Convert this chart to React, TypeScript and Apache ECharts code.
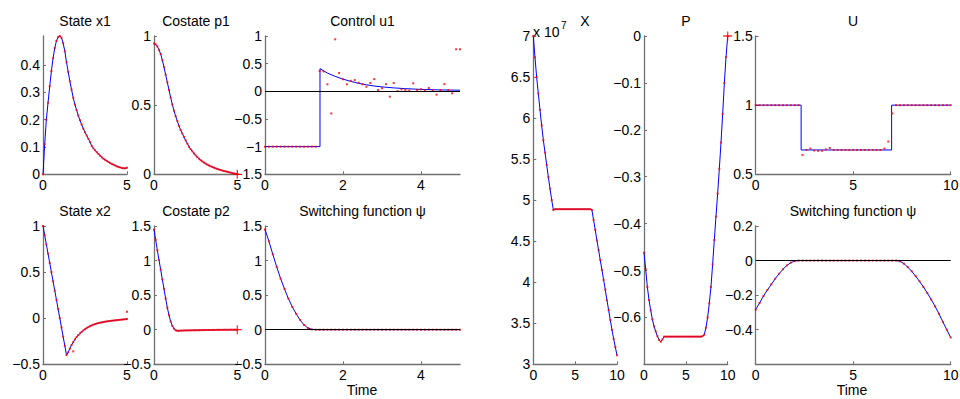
import React, { useEffect, useRef } from 'react';
import * as echarts from 'echarts';

// ---------- time grids ----------
const tLeft = [0, 0.1, 0.2, 0.3, 0.4, 0.5, 0.6, 0.7, 0.8, 0.9, 1.0, 1.1, 1.2, 1.3, 1.4, 1.5, 1.6, 1.7, 1.8, 1.9, 2.0,
  2.1, 2.2, 2.3, 2.4, 2.5, 2.6, 2.7, 2.8, 2.9, 3.0, 3.1, 3.2, 3.3, 3.4, 3.5, 3.6, 3.7, 3.8, 3.9, 4.0,
  4.1, 4.2, 4.3, 4.4, 4.5, 4.6, 4.7, 4.8, 4.9, 5.0];
const tRight = [0, 0.2, 0.4, 0.6, 0.8, 1.0, 1.2, 1.4, 1.6, 1.8, 2.0, 2.2, 2.4, 2.6, 2.8, 3.0, 3.2, 3.4, 3.6, 3.8, 4.0,
  4.2, 4.4, 4.6, 4.8, 5.0, 5.2, 5.4, 5.6, 5.8, 6.0, 6.2, 6.4, 6.6, 6.8, 7.0, 7.2, 7.4, 7.6, 7.8, 8.0,
  8.2, 8.4, 8.6, 8.8, 9.0, 9.2, 9.4, 9.6, 9.8, 10.0];

// ---------- left problem ----------
const stateX1 = [0, 0.11, 0.2, 0.262, 0.322, 0.378, 0.425, 0.462, 0.488, 0.502, 0.506,
  0.5, 0.48, 0.45, 0.41, 0.375, 0.34, 0.31, 0.28, 0.255, 0.235,
  0.215, 0.198, 0.182, 0.167, 0.154, 0.142, 0.13, 0.118, 0.104, 0.095,
  0.088, 0.081, 0.074, 0.068, 0.062, 0.057, 0.053, 0.049, 0.045, 0.041,
  0.038, 0.035, 0.032, 0.029, 0.027, 0.025, 0.023, 0.022, 0.022, 0.024];
const costateP1 = [0.945, 0.94, 0.925, 0.9, 0.87, 0.825, 0.775, 0.72, 0.665, 0.61, 0.555,
  0.505, 0.46, 0.42, 0.385, 0.35, 0.32, 0.295, 0.27, 0.245, 0.222,
  0.2, 0.182, 0.166, 0.151, 0.137, 0.124, 0.113, 0.102, 0.093, 0.085,
  0.077, 0.07, 0.064, 0.058, 0.053, 0.048, 0.043, 0.039, 0.035, 0.031,
  0.027, 0.024, 0.021, 0.018, 0.015, 0.012, 0.009, 0.006, 0.003, 0.001];
const controlU1LineT = [0, 1.41, 1.41, 1.6, 1.8, 2.0, 2.2, 2.4, 2.6, 2.8, 3.0, 3.3, 3.6, 4.0, 4.5, 5.0];
const controlU1LineV = [-1, -1, 0.41, 0.33, 0.27, 0.22, 0.18, 0.145, 0.118, 0.096, 0.08, 0.062, 0.048, 0.035, 0.025, 0.02];
const controlU1Dots = [-1, -1, -1, -1, -1, -1, -1, -1, -1, -1, -1, -1, -1, -1,
  0.367, 0.36, 0.127, -0.4, 0.94, 0.331, 0.22, 0.127, 0.19, 0.204, 0.156, 0.127, 0.083, 0.15, 0.22, 0.024,
  0.054, 0.13, -0.097, 0.15, 0.005, 0.036, 0.024, 0.012, 0.145, 0.024, 0.036,
  0.018, 0.06, 0.018, -0.06, 0.024, 0.13, 0.024, -0.036, 0.76, 0.76];
const stateX2 = [1, 0.9, 0.8, 0.7, 0.6, 0.5, 0.4, 0.3, 0.2, 0.1, 0,
  -0.1, -0.2, -0.3, -0.4, -0.37, -0.33, -0.29, -0.26, -0.23, -0.205,
  -0.183, -0.164, -0.148, -0.133, -0.12, -0.108, -0.096, -0.086, -0.078, -0.07,
  -0.064, -0.058, -0.053, -0.049, -0.045, -0.041, -0.038, -0.035, -0.032, -0.03,
  -0.027, -0.025, -0.023, -0.021, -0.019, -0.017, -0.015, -0.013, -0.011, -0.01];
const stateX2ExtraT = [1.8, 5.0];
const stateX2ExtraV = [-0.36, 0.07];
const costateP2 = [1.45, 1.3, 1.15, 1.01, 0.87, 0.73, 0.59, 0.45, 0.32, 0.21, 0.12,
  0.055, 0.015, -0.008, -0.015, -0.015, -0.013, -0.012, -0.011, -0.01, -0.01,
  -0.009, -0.009, -0.008, -0.008, -0.007, -0.007, -0.006, -0.006, -0.005, -0.005,
  -0.005, -0.004, -0.004, -0.004, -0.003, -0.003, -0.003, -0.002, -0.002, -0.002,
  -0.002, -0.001, -0.001, -0.001, -0.001, 0, 0, 0, 0, 0];
const switchingLeft = [1.45, 1.28, 1.09, 0.91, 0.74, 0.59, 0.45, 0.33, 0.23, 0.14, 0.07,
  0.025, 0.005, 0, 0, 0, 0, 0, 0, 0, 0,
  0, 0, 0, 0, 0, 0, 0, 0, 0, 0,
  0, 0, 0, 0, 0, 0, 0, 0, 0, 0,
  0, 0, 0, 0, 0, 0, 0, 0, 0, 0];
const p1Terminal = [5, 0];
const p2Terminal = [5, 0];

// ---------- right problem ----------
const stateX = [7.0, 6.74, 6.5, 6.3, 6.1, 5.91, 5.73, 5.58, 5.43, 5.28, 5.14,
  5.0, 4.88, 4.89, 4.89, 4.89, 4.89, 4.89, 4.89, 4.89, 4.89,
  4.89, 4.89, 4.89, 4.89, 4.89, 4.89, 4.89, 4.89, 4.89, 4.89,
  4.89, 4.89, 4.89, 4.89, 4.88, 4.76, 4.64, 4.51, 4.39, 4.27,
  4.15, 4.03, 3.91, 3.78, 3.66, 3.54, 3.42, 3.31, 3.21, 3.11]; // ×10^7
const costateP = [-0.462, -0.497, -0.535, -0.563, -0.585, -0.604, -0.619, -0.63, -0.64, -0.648, -0.652,
  -0.647, -0.641, -0.641, -0.641, -0.641, -0.641, -0.641, -0.641, -0.641, -0.641,
  -0.641, -0.641, -0.641, -0.641, -0.641, -0.641, -0.641, -0.641, -0.641, -0.641,
  -0.641, -0.641, -0.641, -0.641, -0.64, -0.637, -0.622, -0.6, -0.57, -0.535,
  -0.487, -0.435, -0.385, -0.336, -0.283, -0.227, -0.166, -0.1, -0.045, 0];
const pTerminal = [10, 0];
const controlUStepT = [0, 2.33, 6.97, 10];
const controlUStepV = [1, 0.676, 1, 1];
const controlUDots = [1, 1, 1, 1, 1, 1, 1, 1, 1, 1, 1, 1,
  0.64, 0.676, 0.686, 0.672, 0.67, 0.67, 0.68, 0.69,
  0.676, 0.676, 0.676, 0.676, 0.676, 0.676, 0.676, 0.676, 0.676, 0.676, 0.676, 0.676, 0.676,
  0.686, 0.737, 0.94,
  1, 1, 1, 1, 1, 1, 1, 1, 1, 1, 1, 1, 1, 1, 1];
const switchingRight = [-0.284, -0.245, -0.205, -0.17, -0.138, -0.105, -0.076, -0.05, -0.028, -0.012, -0.003,
  0, 0, 0, 0, 0, 0, 0, 0, 0, 0,
  0, 0, 0, 0, 0, 0, 0, 0, 0, 0,
  0, 0, 0, 0, 0, 0, -0.004, -0.018, -0.038, -0.062,
  -0.09, -0.12, -0.152, -0.188, -0.225, -0.265, -0.308, -0.355, -0.4, -0.445];

// ---------- tick labels ----------
const ticksX5 = [0, 5];
const ticksX5Wide = [0, 2, 4];
const ticksX10 = [0, 5, 10];
const ticksX1 = [0, 0.1, 0.2, 0.3, 0.4];
const ticksP1 = [0, 0.5, 1];
const ticksU1 = [-1.5, -1, -0.5, 0, 0.5, 1];
const ticksX2 = [-0.5, 0, 0.5, 1];
const ticksP2 = [-0.5, 0, 0.5, 1, 1.5];
const ticksX = [3, 3.5, 4, 4.5, 5, 5.5, 6, 6.5, 7];
const ticksP = [0, -0.1, -0.2, -0.3, -0.4, -0.5, -0.6];
const ticksU = [0.5, 1, 1.5];
const ticksPsiR = [-0.4, -0.2, 0, 0.2];

const titles = ['State x1', 'Costate p1', 'Control u1', 'State x2', 'Costate p2', 'Switching function \u03c8',
  'X', 'P', 'U', 'Switching function \u03c8'];

const BLUE = '#0000ff';
const RED = '#ff0000';
const AXIS = '#707070';
const FONT = '"Liberation Sans", Arial, Helvetica, sans-serif';

const pairs = (t: number[], v: number[]) => t.map((x, i) => [x, v[i]]);
const fmt = (v: number) => String(v).replace('-', '\u2212');

export default function App() {
  const ref = useRef<HTMLDivElement>(null);
  useEffect(() => {
    if (!ref.current) return;
    const chart = echarts.init(ref.current, undefined, { renderer: 'svg' });

    const panels = [
      { l: 43, t: 36, w: 84, h: 138.3, xMax: 5, xt: ticksX5, yMin: 0, yMax: 0.506, yt: ticksX1 },
      { l: 154, t: 36, w: 83.3, h: 138.3, xMax: 5, xt: ticksX5, yMin: 0, yMax: 1, yt: ticksP1 },
      { l: 265, t: 36, w: 195, h: 138.3, xMax: 5, xt: ticksX5Wide, yMin: -1.5, yMax: 1, yt: ticksU1 },
      { l: 43, t: 226, w: 84, h: 138.3, xMax: 5, xt: ticksX5, yMin: -0.5, yMax: 1, yt: ticksX2 },
      { l: 154, t: 226, w: 83.3, h: 138.3, xMax: 5, xt: ticksX5, yMin: -0.5, yMax: 1.5, yt: ticksP2 },
      { l: 265, t: 226, w: 195, h: 138.3, xMax: 5, xt: ticksX5Wide, yMin: -0.5, yMax: 1.5, yt: ticksP2 },
      { l: 533.3, t: 36, w: 83.7, h: 328.3, xMax: 10, xt: ticksX10, yMin: 3, yMax: 7, yt: ticksX },
      { l: 644, t: 36, w: 83.7, h: 328.3, xMax: 10, xt: ticksX10, yMin: -0.7, yMax: 0, yt: ticksP },
      { l: 755.7, t: 36, w: 195, h: 138.3, xMax: 10, xt: ticksX10, yMin: 0.5, yMax: 1.5, yt: ticksU },
      { l: 755.7, t: 226, w: 195, h: 138.3, xMax: 10, xt: ticksX10, yMin: -0.6, yMax: 0.2, yt: ticksPsiR },
    ];

    const labelStyle = { fontSize: 14, color: '#000', fontFamily: FONT };
    const grid = panels.map((p) => ({ left: p.l, top: p.t, width: p.w, height: p.h, outerBoundsMode: 'none', containLabel: false }));
    const xAxis = panels.map((p, i) => ({
      gridIndex: i, type: 'value', min: 0, max: p.xMax,
      axisLine: { show: true, onZero: false, lineStyle: { color: AXIS, width: 1.3 } },
      axisTick: { show: true, inside: true, length: 3, customValues: p.xt, lineStyle: { color: AXIS } },
      axisLabel: { ...labelStyle, customValues: p.xt, margin: 4, formatter: fmt },
      splitLine: { show: false },
    }));
    const yAxis = panels.map((p, i) => ({
      gridIndex: i, type: 'value', min: p.yMin, max: p.yMax,
      axisLine: { show: true, onZero: false, lineStyle: { color: AXIS, width: 1.3 } },
      axisTick: { show: true, inside: true, length: 3, customValues: p.yt, lineStyle: { color: AXIS } },
      axisLabel: { ...labelStyle, customValues: p.yt, margin: 3, formatter: fmt },
      splitLine: { show: false },
    }));

    const series: any[] = [];
    const blue = (i: number, data: number[][], extra: any = {}) => series.push({
      type: 'line', xAxisIndex: i, yAxisIndex: i, data, showSymbol: false, symbol: 'none',
      lineStyle: { color: BLUE, width: 1 }, z: 2, clip: false, silent: true, ...extra,
    });
    const dots = (i: number, data: number[][]) => series.push({
      type: 'scatter', xAxisIndex: i, yAxisIndex: i, data, symbol: 'rect', symbolSize: 2,
      itemStyle: { color: RED }, z: 4, clip: false, silent: true,
    });
    const zero = (i: number) => series.push({
      type: 'line', xAxisIndex: i, yAxisIndex: i, data: [], z: 3, silent: true,
      markLine: { silent: true, symbol: 'none', label: { show: false }, lineStyle: { color: '#000', width: 1, type: 'solid' }, data: [{ yAxis: 0 }], animation: false },
    });
    const plus = (i: number, pt: number[]) => series.push({
      type: 'scatter', xAxisIndex: i, yAxisIndex: i, data: [pt],
      symbol: 'path://M4.3,0H5.7V4.3H10V5.7H5.7V10H4.3V5.7H0V4.3H4.3Z', symbolSize: 9,
      itemStyle: { color: RED }, z: 5, clip: false, silent: true,
    });

    const x1 = pairs(tLeft, stateX1); blue(0, x1); dots(0, x1);
    const p1 = pairs(tLeft, costateP1); blue(1, p1); dots(1, p1); plus(1, p1Terminal);
    blue(2, pairs(controlU1LineT, controlU1LineV)); zero(2); dots(2, pairs(tLeft, controlU1Dots));
    const x2 = pairs(tLeft, stateX2); blue(3, x2); dots(3, x2); dots(3, pairs(stateX2ExtraT, stateX2ExtraV));
    const p2 = pairs(tLeft, costateP2); blue(4, p2); dots(4, p2); plus(4, p2Terminal);
    const psL = pairs(tLeft, switchingLeft); blue(5, psL); zero(5); dots(5, psL);
    const X = pairs(tRight, stateX); blue(6, X); dots(6, X);
    const P = pairs(tRight, costateP); blue(7, P); dots(7, P); plus(7, pTerminal);
    blue(8, pairs(controlUStepT, controlUStepV), { step: 'end' }); dots(8, pairs(tRight, controlUDots));
    const psR = pairs(tRight, switchingRight); blue(9, psR); zero(9); dots(9, psR);

    const titleX = [85, 196, 362.5, 85, 196, 362.5, 585, 686, 853, 853];
    const titleY = [21, 21, 21, 211, 211, 211, 21, 21, 21, 211];
    const txt = (text: string, x: number, y: number, size = 14, align = 'center') => ({
      type: 'text', x, y, silent: true,
      style: { text, fontSize: size, fontFamily: FONT, fill: '#000', align, verticalAlign: 'middle', textAlign: align, textVerticalAlign: 'middle' },
    });
    const graphic = [
      ...titles.map((s, i) => txt(s, titleX[i], titleY[i])),
      txt('Time', 362, 390),
      txt('Time', 852, 390),
      txt('x 10', 533, 32, 14, 'left'),
      txt('7', 561, 25, 10, 'left'),
    ];

    chart.setOption({
      animation: false,
      backgroundColor: '#fff',
      grid, xAxis, yAxis, series, graphic,
    } as any);
    return () => chart.dispose();
  }, []);
  return <div ref={ref} style={{ position: 'fixed', left: 0, top: 0, width: 960, height: 399 }} />;
}
